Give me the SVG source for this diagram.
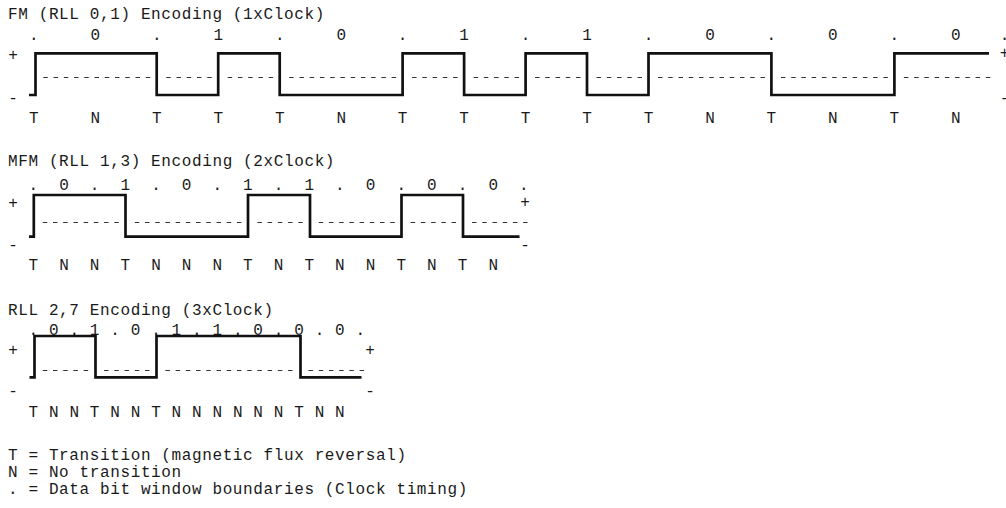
<svg xmlns="http://www.w3.org/2000/svg" width="1006" height="508" viewBox="0 0 1006 508">
<style>
text{font-family:"Liberation Mono","DejaVu Sans Mono",monospace;font-size:16px;fill:#1a1a1a;font-feature-settings:"zero" 1}
.t{letter-spacing:0.62px}
.c{text-anchor:middle}
.w{fill:none;stroke:#111;stroke-width:2.7;stroke-linejoin:miter;stroke-linecap:butt}
.d1{stroke:#333;stroke-width:1;stroke-dasharray:4.5 5.745}
.d2{stroke:#333;stroke-width:1;stroke-dasharray:4.5 5.72}
</style>
<rect width="1006" height="508" fill="#ffffff"/>

<g id="fm">
<text class="t" x="8" y="18.5">FM (RLL 0,1) Encoding (1xClock)</text>
<g class="c">
<text x="33.8" y="40">.</text><text x="95.3" y="40">0</text><text x="156.7" y="40">.</text><text x="218.2" y="40">1</text>
<text x="279.7" y="40">.</text><text x="341.2" y="40">0</text><text x="402.6" y="40">.</text><text x="464.1" y="40">1</text>
<text x="525.6" y="40">.</text><text x="587" y="40">1</text><text x="648.5" y="40">.</text><text x="710" y="40">0</text>
<text x="771.4" y="40">.</text><text x="832.9" y="40">0</text><text x="894.4" y="40">.</text><text x="955.9" y="40">0</text>
<text x="1004.5" y="40">.</text>
<text x="13" y="60.3">+</text><text x="13" y="102.5">-</text>
<text x="1004.5" y="58.3">+</text><text x="1004.5" y="102.5">-</text>
<text x="33.8" y="123">T</text><text x="95.3" y="123">N</text><text x="156.7" y="123">T</text><text x="218.2" y="123">T</text>
<text x="279.7" y="123">T</text><text x="341.2" y="123">N</text><text x="402.6" y="123">T</text><text x="464.1" y="123">T</text>
<text x="525.6" y="123">T</text><text x="587" y="123">T</text><text x="648.5" y="123">T</text><text x="710" y="123">N</text>
<text x="771.4" y="123">T</text><text x="832.9" y="123">N</text><text x="894.4" y="123">T</text><text x="955.9" y="123">N</text>
</g>
<g class="d1">
<line x1="43.3" y1="77.5" x2="150.25" y2="77.5"/>
<line x1="166.24" y1="77.5" x2="211.72" y2="77.5"/>
<line x1="227.71" y1="77.5" x2="273.19" y2="77.5"/>
<line x1="289.18" y1="77.5" x2="396.13" y2="77.5"/>
<line x1="412.12" y1="77.5" x2="457.6" y2="77.5"/>
<line x1="473.59" y1="77.5" x2="519.07" y2="77.5"/>
<line x1="535.06" y1="77.5" x2="580.54" y2="77.5"/>
<line x1="596.53" y1="77.5" x2="642.01" y2="77.5"/>
<line x1="658" y1="77.5" x2="764.95" y2="77.5"/>
<line x1="780.94" y1="77.5" x2="887.89" y2="77.5"/>
<line x1="903.88" y1="77.5" x2="990.34" y2="77.5"/>
</g>
<path class="w" d="M29,95 H35.5 V53.3 H156.7 V95 H218.2 V53.3 H279.7 V95 H402.6 V53.3 H464.1 V95 H525.6 V53.3 H587 V95 H648.5 V53.3 H771.4 V95 H894.4 V53.3 H989"/>
</g>

<g id="mfm">
<text class="t" x="8" y="166">MFM (RLL 1,3) Encoding (2xClock)</text>
<g class="c">
<text x="33.3" y="190">.</text><text x="63.96" y="190">0</text><text x="94.62" y="190">.</text><text x="125.28" y="190">1</text>
<text x="155.94" y="190">.</text><text x="186.6" y="190">0</text><text x="217.26" y="190">.</text><text x="247.92" y="190">1</text>
<text x="278.58" y="190">.</text><text x="309.24" y="190">1</text><text x="339.9" y="190">.</text><text x="370.56" y="190">0</text>
<text x="401.22" y="190">.</text><text x="431.88" y="190">0</text><text x="462.54" y="190">.</text><text x="493.2" y="190">0</text>
<text x="523.86" y="190">.</text>
<text x="13" y="208">+</text><text x="13" y="249.5">-</text>
<text x="525" y="207">+</text><text x="525" y="249.5">-</text>
<text x="33.3" y="270">T</text><text x="63.96" y="270">N</text><text x="94.62" y="270">N</text><text x="125.28" y="270">T</text>
<text x="155.94" y="270">N</text><text x="186.6" y="270">N</text><text x="217.26" y="270">N</text><text x="247.92" y="270">T</text>
<text x="278.58" y="270">N</text><text x="309.24" y="270">T</text><text x="339.9" y="270">N</text><text x="370.56" y="270">N</text>
<text x="401.22" y="270">T</text><text x="431.88" y="270">N</text><text x="462.54" y="270">T</text><text x="493.2" y="270">N</text>
</g>
<g class="d2">
<line x1="42.77" y1="222.5" x2="118.81" y2="222.5"/>
<line x1="134.75" y1="222.5" x2="241.45" y2="222.5"/>
<line x1="257.39" y1="222.5" x2="302.77" y2="222.5"/>
<line x1="318.71" y1="222.5" x2="394.75" y2="222.5"/>
<line x1="410.69" y1="222.5" x2="456.07" y2="222.5"/>
<line x1="472.01" y1="222.5" x2="527.61" y2="222.5"/>
</g>
<path class="w" d="M29,236.7 H33.8 V195 H125.5 V236.7 H248 V195 H310 V236.7 H401.5 V195 H463 V236.7 H519.5"/>
</g>

<g id="rll">
<text class="t" x="8" y="315">RLL 2,7 Encoding (3xClock)</text>
<g class="c">
<text x="33.3" y="335">.</text><text x="53.74" y="335">0</text><text x="74.18" y="335">.</text><text x="94.62" y="335">1</text>
<text x="115.06" y="335">.</text><text x="135.5" y="335">0</text><text x="155.94" y="335">.</text><text x="176.38" y="335">1</text>
<text x="196.82" y="335">.</text><text x="217.26" y="335">1</text><text x="237.7" y="335">.</text><text x="258.14" y="335">0</text>
<text x="278.58" y="335">.</text><text x="299.02" y="335">0</text><text x="319.46" y="335">.</text><text x="339.9" y="335">0</text>
<text x="360.34" y="335">.</text>
<text x="13" y="355.3">+</text><text x="13" y="396.2">-</text>
<text x="370" y="355.3">+</text><text x="370" y="396.2">-</text>
<text x="33.3" y="416.7">T</text><text x="53.74" y="416.7">N</text><text x="74.18" y="416.7">N</text><text x="94.62" y="416.7">T</text>
<text x="115.06" y="416.7">N</text><text x="135.5" y="416.7">N</text><text x="155.94" y="416.7">T</text><text x="176.38" y="416.7">N</text>
<text x="196.82" y="416.7">N</text><text x="217.26" y="416.7">N</text><text x="237.7" y="416.7">N</text><text x="258.14" y="416.7">N</text>
<text x="278.58" y="416.7">N</text><text x="299.02" y="416.7">T</text><text x="319.46" y="416.7">N</text><text x="339.9" y="416.7">N</text>
</g>
<g class="d2">
<line x1="42.77" y1="370.5" x2="88.15" y2="370.5"/>
<line x1="104.09" y1="370.5" x2="149.47" y2="370.5"/>
<line x1="165.41" y1="370.5" x2="292.55" y2="370.5"/>
<line x1="308.49" y1="370.5" x2="364.09" y2="370.5"/>
</g>
<path class="w" d="M29.5,377.3 H34.5 V336 H95.5 V377.3 H156.5 V336 H300.5 V377.3 H361.5"/>
</g>

<g id="legend">
<text class="t" x="8" y="460">T = Transition (magnetic flux reversal)</text>
<text class="t" x="8" y="477">N = No transition</text>
<text class="t" x="8" y="494">. = Data bit window boundaries (Clock timing)</text>
</g>
</svg>
